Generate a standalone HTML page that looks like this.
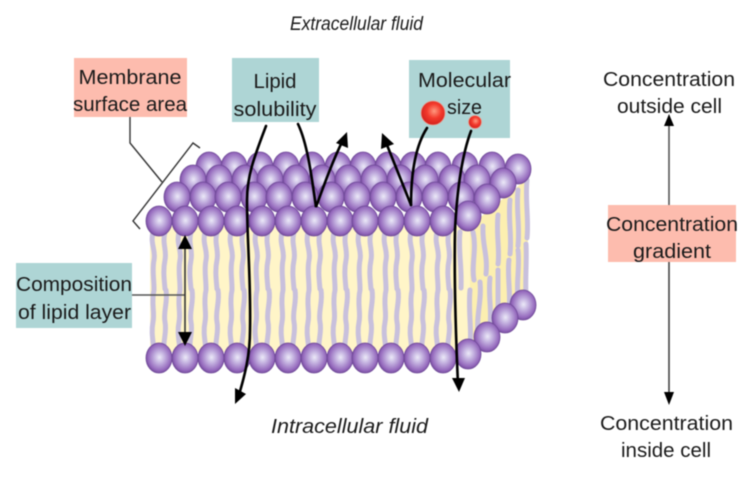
<!DOCTYPE html>
<html>
<head>
<meta charset="utf-8">
<style>
html,body{margin:0;padding:0;background:#fff;width:755px;height:479px;overflow:hidden}
svg{display:block;filter:blur(0.4px)}
text{font-family:"Liberation Sans",sans-serif;font-size:20px;fill:#1a1a1a;text-anchor:middle}
.i{font-style:italic}
.t{fill:none;stroke:#c8c0dc;stroke-width:5;stroke-linecap:round}
.k{fill:none;stroke:#000;stroke-width:2.6;stroke-linecap:round}
.g{fill:none;stroke:#555;stroke-width:1.4}
.b{fill:none;stroke:#333;stroke-width:1.4}
</style>
</head>
<body>
<svg width="755" height="479" viewBox="0 0 755 479" xmlns="http://www.w3.org/2000/svg">
<defs>
<radialGradient id="bg" cx="0.52" cy="0.48" r="0.55">
<stop offset="0" stop-color="#eceaf8"/>
<stop offset="0.35" stop-color="#c4b2e0"/>
<stop offset="0.8" stop-color="#9468bc"/>
<stop offset="1" stop-color="#6d4694"/>
</radialGradient>
<radialGradient id="r1" cx="0.55" cy="0.42" r="0.6">
<stop offset="0" stop-color="#ff9a80"/>
<stop offset="0.5" stop-color="#f33a2c"/>
<stop offset="1" stop-color="#d0201c"/>
</radialGradient>
<g id="o"><ellipse rx="13" ry="15" fill="url(#bg)" stroke="#6f4a98" stroke-width="0.8"/></g>
<g id="u">
<path class="t" d="M-6 0C-9 12-3 18-5 28C-7 38-5 46-5 57"/>
<path class="t" d="M6 0C3 12 8 18 6 28C4 38 5 46 6 57"/>
</g>
<g id="l">
<path class="t" d="M-5 0C-8 14-4 22-6 32C-8 42-6 50-5 60"/>
<path class="t" d="M7 0C9 12 4 22 6 32C8 42 4 50 5 60"/>
</g>
</defs>

<!-- membrane body -->
<polygon points="150,226 470,226 528,178 528,300 470,352 150,352" fill="#fff5c8"/>
<polygon points="470,226 528,178 528,300 470,352" fill="#fcefb0"/>

<!-- side tails -->
<path class="t" d="M460 232C458 250 462 265 461 288"/>
<path class="t" d="M473 232C477 250 471 265 474 280"/>
<path class="t" d="M483 226C482 245 488 255 486 274"/>
<path class="t" d="M498 215C496 235 500 250 498 264"/>
<path class="t" d="M510 200C508 220 512 235 510 254"/>
<path class="t" d="M518 190C516 210 520 225 518 246"/>
<path class="t" d="M527 180C525 200 529 220 527 238"/>
<path class="t" d="M470 290C468 310 472 330 470 345"/>
<path class="t" d="M480 282C482 300 476 315 478 334"/>
<path class="t" d="M490 278C488 295 492 310 490 326"/>
<path class="t" d="M498 270V318"/>
<path class="t" d="M509 260C507 275 511 295 509 308"/>
<path class="t" d="M518 250C520 265 516 285 518 296"/>
<path class="t" d="M526 244C527 260 525 280 526 294"/>

<!-- upper tails -->
<use href="#u" x="159" y="232"/><use href="#u" x="185" y="232"/><use href="#u" x="211" y="232"/><use href="#u" x="237" y="232"/><use href="#u" x="262" y="232"/><use href="#u" x="288" y="232"/><use href="#u" x="314" y="232"/><use href="#u" x="340" y="232"/><use href="#u" x="365" y="232"/><use href="#u" x="391" y="232"/><use href="#u" x="417" y="232"/><use href="#u" x="443" y="232"/>
<!-- lower tails -->
<use href="#l" x="159" y="290"/><use href="#l" x="185" y="290"/><use href="#l" x="211" y="290"/><use href="#l" x="237" y="290"/><use href="#l" x="262" y="290"/><use href="#l" x="288" y="290"/><use href="#l" x="314" y="290"/><use href="#l" x="340" y="290"/><use href="#l" x="365" y="290"/><use href="#l" x="391" y="290"/><use href="#l" x="417" y="290"/><use href="#l" x="443" y="290"/>

<!-- bottom balls -->
<use href="#o" x="523" y="305"/><use href="#o" x="505" y="318"/><use href="#o" x="487" y="337"/><use href="#o" x="468" y="354"/>
<use href="#o" x="159" y="358"/><use href="#o" x="185" y="358"/><use href="#o" x="211" y="358"/><use href="#o" x="237" y="358"/><use href="#o" x="262" y="358"/><use href="#o" x="288" y="358"/><use href="#o" x="314" y="358"/><use href="#o" x="340" y="358"/><use href="#o" x="365" y="358"/><use href="#o" x="391" y="358"/><use href="#o" x="417" y="358"/><use href="#o" x="443" y="358"/>

<!-- top balls, back to front -->
<use href="#o" x="209" y="167"/><use href="#o" x="234" y="167"/><use href="#o" x="260" y="167"/><use href="#o" x="286" y="167"/><use href="#o" x="312" y="167"/><use href="#o" x="338" y="167"/><use href="#o" x="363" y="167"/><use href="#o" x="388" y="167"/><use href="#o" x="413" y="167"/><use href="#o" x="438" y="167"/><use href="#o" x="465" y="167"/><use href="#o" x="492" y="167"/><use href="#o" x="518" y="169"/>
<use href="#o" x="193" y="180"/><use href="#o" x="219" y="180"/><use href="#o" x="245" y="180"/><use href="#o" x="270" y="180"/><use href="#o" x="296" y="180"/><use href="#o" x="322" y="180"/><use href="#o" x="348" y="180"/><use href="#o" x="374" y="180"/><use href="#o" x="400" y="180"/><use href="#o" x="425" y="180"/><use href="#o" x="452" y="180"/><use href="#o" x="477" y="180"/><use href="#o" x="503" y="183"/>
<use href="#o" x="177" y="197"/><use href="#o" x="203" y="197"/><use href="#o" x="228" y="197"/><use href="#o" x="254" y="197"/><use href="#o" x="279" y="197"/><use href="#o" x="305" y="197"/><use href="#o" x="331" y="197"/><use href="#o" x="357" y="197"/><use href="#o" x="383" y="197"/><use href="#o" x="409" y="197"/><use href="#o" x="435" y="197"/><use href="#o" x="461" y="197"/><use href="#o" x="487" y="199"/>
<use href="#o" x="159" y="221"/><use href="#o" x="185" y="221"/><use href="#o" x="211" y="221"/><use href="#o" x="237" y="221"/><use href="#o" x="262" y="221"/><use href="#o" x="288" y="221"/><use href="#o" x="314" y="221"/><use href="#o" x="340" y="221"/><use href="#o" x="365" y="221"/><use href="#o" x="391" y="221"/><use href="#o" x="417" y="221"/><use href="#o" x="443" y="221"/><use href="#o" x="468" y="216"/>

<!-- label boxes -->
<rect x="74" y="58" width="113" height="59" fill="#fdbcae"/>
<rect x="232" y="58" width="87" height="64" fill="#aed5d5"/>
<rect x="409" y="60" width="101" height="78" fill="#aed5d5"/>
<rect x="16" y="263" width="116" height="65" fill="#aed5d5"/>
<rect x="608" y="205" width="128" height="57" fill="#fdbcae"/>

<!-- bracket and leader lines -->
<path class="b" d="M130 117V143L162 182"/>
<path class="b" d="M140 229L133 221L193 143L200 148"/>
<path class="g" d="M132 295H185"/>

<!-- composition double arrow -->
<path d="M185 245V336" stroke="#333" stroke-width="1.6" fill="none"/>
<polygon points="185,235 178,249 192,249" fill="#000"/>
<polygon points="185,346 178,332 192,332" fill="#000"/>

<!-- black arrows -->
<path class="k" d="M266 126C255 155 247 175 247 200C247 240 251 280 250 330C250 355 245 375 238 398"/>
<polygon points="235,404 235,388 246,394" fill="#000"/>
<path class="k" d="M298 124C308 145 312 180 316 207C324 185 333 160 343 140"/>
<polygon points="347,132 348,148 336,143" fill="#000"/>
<path class="k" d="M411 205L385 140"/>
<polygon points="382,133 394,144 381,149" fill="#000"/>
<path class="k" d="M427 128C416 145 411 170 411 205"/>
<path class="k" d="M471 131C462 155 457 190 455 230C454 280 456 340 458 385"/>
<polygon points="459,392 452,378 465,378" fill="#000"/>

<!-- red molecules -->
<circle cx="433" cy="113" r="12" fill="url(#r1)" stroke="#e8a090" stroke-width="0.8"/>
<circle cx="475" cy="122" r="6.5" fill="url(#r1)" stroke="#e8a090" stroke-width="0.8"/>

<!-- gradient arrows -->
<path d="M669 205V125" stroke="#555" stroke-width="1.6" fill="none"/>
<polygon points="669,114 664,126 674,126" fill="#000"/>
<path d="M669 262V395" stroke="#444" stroke-width="1.6" fill="none"/>
<polygon points="669,405 664,392 674,392" fill="#000"/>

<!-- labels -->
<text class="i" x="356.500" y="30" textLength="133" lengthAdjust="spacingAndGlyphs" style="font-size:19px">Extracellular fluid</text>
<text class="i" x="349.500" y="433" textLength="157" lengthAdjust="spacingAndGlyphs">Intracellular fluid</text>
<text x="130" y="84" textLength="103" lengthAdjust="spacingAndGlyphs">Membrane</text>
<text x="130" y="111" textLength="114" lengthAdjust="spacingAndGlyphs">surface area</text>
<text x="275" y="88" textLength="43" lengthAdjust="spacingAndGlyphs">Lipid</text>
<text x="275" y="116" textLength="83" lengthAdjust="spacingAndGlyphs">solubility</text>
<text x="464.500" y="87" textLength="93" lengthAdjust="spacingAndGlyphs">Molecular</text>
<text x="464.500" y="114" textLength="35" lengthAdjust="spacingAndGlyphs">size</text>
<text x="74" y="291" textLength="116" lengthAdjust="spacingAndGlyphs">Composition</text>
<text x="74.500" y="319" textLength="113" lengthAdjust="spacingAndGlyphs">of lipid layer</text>
<text x="669" y="86" textLength="132" lengthAdjust="spacingAndGlyphs">Concentration</text>
<text x="669.500" y="113" textLength="105" lengthAdjust="spacingAndGlyphs">outside cell</text>
<text x="672" y="231" textLength="132" lengthAdjust="spacingAndGlyphs">Concentration</text>
<text x="672" y="258" textLength="78" lengthAdjust="spacingAndGlyphs">gradient</text>
<text x="666.500" y="430" textLength="133" lengthAdjust="spacingAndGlyphs">Concentration</text>
<text x="666" y="457" textLength="90" lengthAdjust="spacingAndGlyphs">inside cell</text>
</svg>
</body>
</html>
